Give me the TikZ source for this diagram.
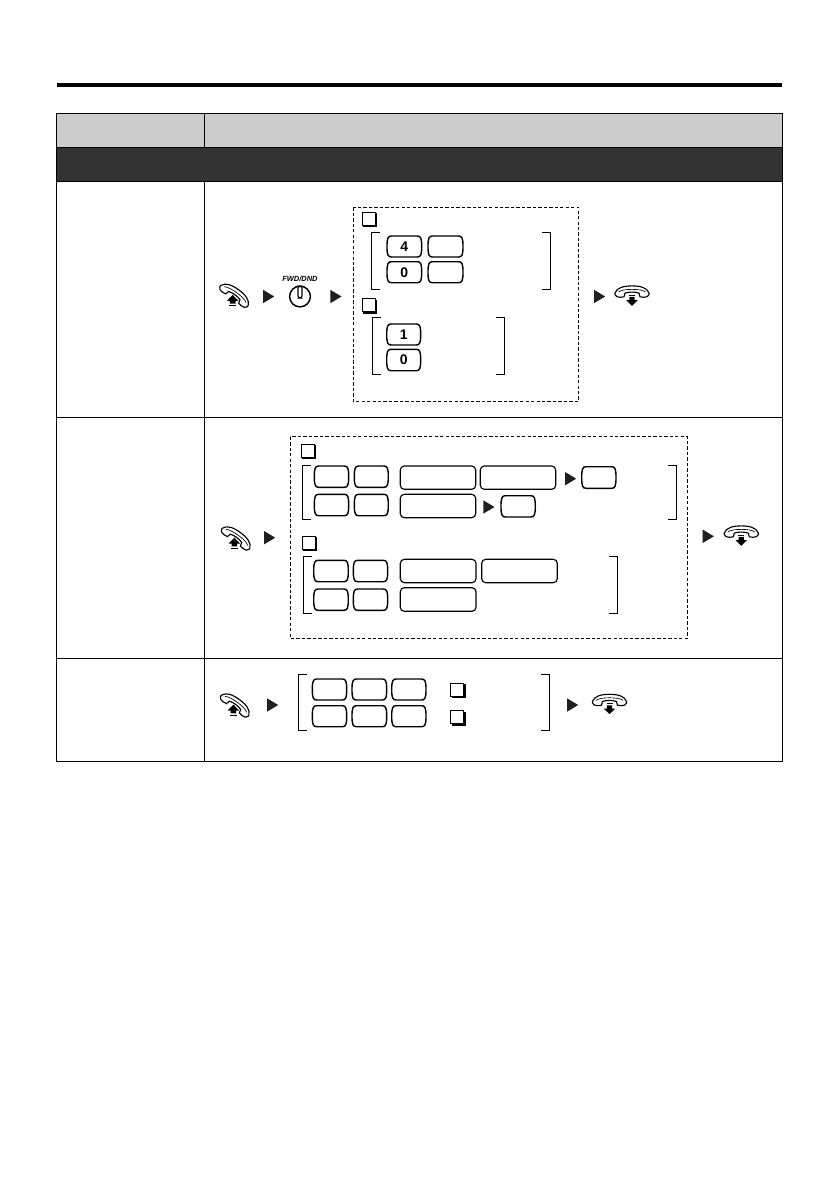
\documentclass[tikz,border=0pt]{standalone}
\usepackage{fontspec}
\setmainfont{Liberation Sans}
\tikzset{
  px/.style={x=0.75pt,y=-0.75pt},
  rule/.style={line width=0.75pt,black},
  dashbox/.style={line width=0.8pt,black,dash pattern=on 2.5pt off 1.6pt},
  brk/.style={line width=0.7pt,black},
  keyline/.style={line width=1.05pt,black,fill=white},
  longkey/.style={line width=0.85pt,black,fill=white,rounded corners=3pt},
  tri/.style={fill=black!88,draw=none},
  digit/.style={font=\bfseries\fontsize{10.5pt}{12pt}\selectfont,inner sep=0pt},
}
% key with slightly bulged sides
\newcommand{\keyat}[5]{%
  \pgfmathsetmacro{\kxa}{#1+1}\pgfmathsetmacro{\kxb}{#3-1}%
  \pgfmathsetmacro{\kxc}{#1+4.5}\pgfmathsetmacro{\kxd}{#3-4.5}%
  \pgfmathsetmacro{\kya}{#2+2}\pgfmathsetmacro{\kyb}{#4-2}%
  \pgfmathsetmacro{\kcx}{(#1+#3)/2}\pgfmathsetmacro{\kcy}{(#2+#4)/2}%
  \draw[keyline] (\kxc,#2) -- (\kxd,#2) .. controls (\kxb,#2) and (#3,\kya) .. (#3,\kcy)
    .. controls (#3,\kyb) and (\kxb,#4) .. (\kxd,#4) -- (\kxc,#4)
    .. controls (\kxa,#4) and (#1,\kyb) .. (#1,\kcy)
    .. controls (#1,\kya) and (\kxa,#2) .. (\kxc,#2) -- cycle;
  \node[digit] at (\kcx,\kcy) {#5};}
\newcommand{\longk}[4]{\draw[longkey] (#1,#2) rectangle (#3,#4);}
% check box: x1,y1 top-left of the full glyph
\newcommand{\chk}[2]{%
  \begin{scope}[shift={(#1,#2)}]
    \draw[line width=0.6pt,fill=white] (0.5,0.5) rectangle (13.5,13.5);
    \draw[line width=1.4pt] (14.6,1.5) -- (14.6,14.6) -- (1.5,14.6);
  \end{scope}}
% square bracket pair
\newcommand{\brackets}[6]{% xl, xltick, xrtick, xr, ytop, ybot
  \draw[brk] (#2,#5) -- (#1,#5) -- (#1,#6) -- (#2,#6);
  \draw[brk] (#3,#5) -- (#4,#5) -- (#4,#6) -- (#3,#6);}
% triangle arrow: x left, y centre
\newcommand{\triar}[2]{\fill[tri,shift={(#1,#2)}] (0,-6.7) -- (11.2,0) -- (0,6.7) -- cycle;}
\newcommand{\handsetshape}{%
  \draw[line width=0.85pt,fill=white] (-17,1.5) .. controls (-15,-4) and (-8,-5.6) .. (0,-5.6)
    .. controls (8,-5.6) and (15,-4) .. (17,1.5) -- (17,3)
    .. controls (17,5) and (14,5.8) .. (12,5.8) -- (8,5.3) -- (7,1.6)
    .. controls (3,0.2) and (-3,0.2) .. (-7,1.6) -- (-8,5.3) -- (-12,5.8)
    .. controls (-14,5.8) and (-17,5) .. (-17,3) -- cycle;
  \draw[line width=0.5pt] (-13.5,0.5) .. controls (-10,-3) and (10,-3) .. (13.5,0.5);}
% handset on-hook with down arrow: centre
\newcommand{\hdown}[2]{%
  \begin{scope}[shift={(#1,#2)}]
    \handsetshape
    \draw[line width=0.9pt] (-3,3.6) -- (3,3.6);
    \fill (-2.6,5.4) -- (2.6,5.4) -- (2.6,8.6) -- (5.8,8.6) -- (0,14.3) -- (-5.8,8.6) -- (-2.6,8.6) -- cycle;
  \end{scope}}
% handset off-hook with up arrow: centre
\newcommand{\hup}[2]{%
  \begin{scope}[shift={(#1,#2)}]
    \begin{scope}[rotate=-36]\handsetshape\end{scope}
    \fill (-2.6,0.6) -- (3.2,6.6) -- (0.2,6.6) -- (0.2,9.3) -- (-5.4,9.3) -- (-5.4,6.6) -- (-8.4,6.6) -- cycle;
    \draw[line width=0.9pt] (-6,11.2) -- (0.8,11.2);
  \end{scope}}
\begin{document}
\begin{tikzpicture}[px]
\useasboundingbox (0,0) rectangle (839,1191);
\fill[white] (0,0) rectangle (839,1191);
% top rule
\fill[black] (57,83) rectangle (782,87);
% table
\fill[black!20] (56.5,113.5) rectangle (782,147.5);
\fill[black!80] (56.5,147.5) rectangle (782,182);
\draw[rule] (56.5,113.5) rectangle (782,761.5);
\draw[rule] (56.5,147.5) -- (782,147.5);
\draw[rule] (56.5,182) -- (782,182);
\draw[rule] (56.5,417) -- (782,417);
\draw[rule] (56.5,658.5) -- (782,658.5);
\draw[rule] (56.5,761.5) -- (782,761.5);
\draw[rule] (204.5,113.5) -- (204.5,147.5);
\draw[rule] (204.5,182) -- (204.5,761.5);

% ---- row 1
\hup{235.3}{294.3}
\triar{263}{296.5}
\node[font=\itshape\bfseries\fontsize{5.6pt}{6pt}\selectfont,inner sep=0pt] (fwd) at (300,279.3) {FWD/DND};
\draw[line width=1.1pt] (300,296.5) circle [radius=10.4];
\draw[line width=0.9pt,fill=white,rounded corners=1.6pt] (298,286.2) rectangle (302,298);
\triar{330.3}{296.5}
\draw[dashbox] (353.3,207.3) rectangle (578.7,401.3);
\chk{361.7}{211.7}
\brackets{371}{380}{542}{550.7}{232.3}{289.3}
\keyat{387}{236}{421.7}{257}{4}
\keyat{428}{236}{463}{257}{}
\keyat{387}{261.7}{421.7}{282.7}{0}
\keyat{428}{261.7}{463}{282.7}{}
\chk{361.7}{298}
\brackets{372.3}{381}{496}{504.7}{317.3}{374}
\keyat{386.7}{324}{420.7}{345}{1}
\keyat{386.7}{349.3}{420.7}{370.7}{0}
\triar{594}{296.5}
\hdown{632}{291.5}

% ---- row 2
\hup{237}{537}
\triar{264}{537.7}
\draw[dashbox] (290.3,436.7) rectangle (687.3,638.3);
\chk{300.5}{443.5}
\brackets{302.3}{311}{668.3}{676.7}{465}{519.3}
\keyat{314.3}{466}{348.7}{487.3}{}
\keyat{354.3}{466}{388.3}{487.3}{}
\longk{400.3}{466}{475.7}{489.3}
\longk{480.3}{466}{555.7}{489.3}
\triar{565}{478.7}
\keyat{581.7}{466.7}{616}{488.3}{}
\keyat{314.3}{494.3}{348.7}{515.7}{}
\keyat{354.3}{494.3}{388.3}{515.7}{}
\longk{400.3}{494.3}{475.7}{517.7}
\triar{483.3}{507}
\keyat{501}{495.7}{535.3}{517}{}
\chk{301.5}{535.5}
\brackets{303.3}{312}{609}{617.7}{556.3}{613.3}
\keyat{313.7}{560.3}{348.3}{581.7}{}
\keyat{353.3}{560.3}{387.7}{581.7}{}
\longk{400.3}{559.3}{476}{582.7}
\longk{481.7}{559.3}{557.3}{582.7}
\keyat{313.7}{589}{348.3}{610.3}{}
\keyat{353.3}{589}{387.7}{610.3}{}
\longk{400.3}{587.7}{476}{611.3}
\triar{702.7}{536.3}
\hdown{741.3}{531.5}

% ---- row 3
\hup{236}{704}
\triar{267}{705}
\brackets{298.3}{307}{541}{549.3}{674.3}{730.7}
\keyat{312.3}{679}{346.7}{700}{}
\keyat{352}{679}{386.7}{700}{}
\keyat{391.7}{679}{426}{700}{}
\keyat{312.3}{705.7}{346.7}{726.7}{}
\keyat{352}{705.7}{386.7}{726.7}{}
\keyat{391.7}{705.7}{426}{726.7}{}
\chk{450}{682.5}
\chk{450}{710}
\triar{567}{705}
\hdown{609.5}{699.9}
\end{tikzpicture}
\end{document}
